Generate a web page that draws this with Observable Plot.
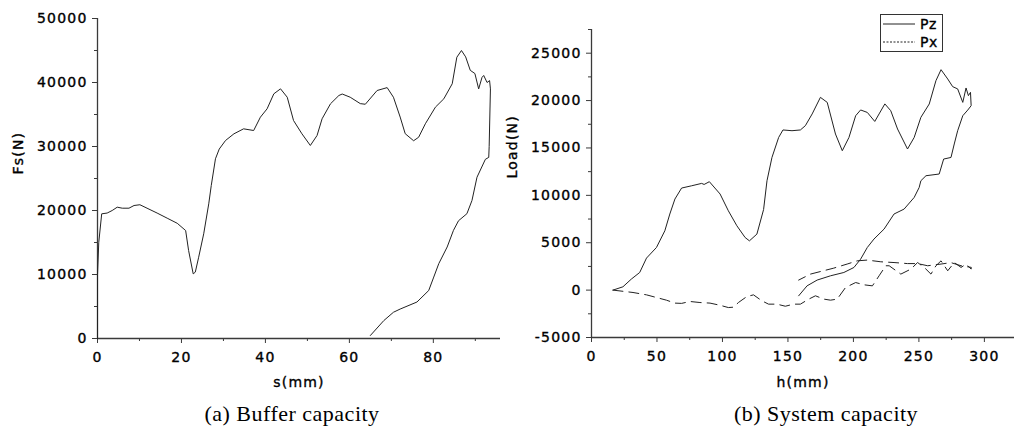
<!DOCTYPE html>
<html>
<head>
<meta charset="utf-8">
<script src="https://cdn.jsdelivr.net/npm/d3@7"></script>
<script src="https://cdn.jsdelivr.net/npm/@observablehq/plot@0.6"></script>
<style>
html, body { margin: 0; padding: 0; background: #fff; width: 1014px; height: 432px; overflow: hidden; }
#wrap { position: relative; width: 1014px; height: 432px; }
.panel { position: absolute; top: 0; }
.panel svg text { letter-spacing: 1.2px; stroke: #000; stroke-width: 0.35px; }
.cap { position: absolute; top: 402px; font-family: "Liberation Serif", "Times New Roman", serif; font-size: 22px; line-height: 24px; letter-spacing: 0.5px; color: #000; white-space: nowrap; transform: translateX(-50%); }
#legend { position: absolute; left: 880px; top: 14px; }
</style>
</head>
<body>
<div id="wrap">
  <div class="panel" id="pa" style="left:0px"></div>
  <div class="panel" id="pb" style="left:500px"></div>
  <div class="cap" id="capA" style="left:292px"></div>
  <div class="cap" id="capB" style="left:826px"></div>
  <div id="legend"></div>
</div>
<script>
// ---------- Panel (a): Buffer capacity ----------
const captionA = "(a) Buffer capacity";
const xLabelA = "s(mm)";
const yLabelA = "Fs(N)";
const xTicksA = [0, 20, 40, 60, 80];
const xMinorA = [10, 30, 50, 70, 90];
const yTicksA = [0, 10000, 20000, 30000, 40000, 50000];
const yMinorA = [5000, 15000, 25000, 35000, 45000];
const sA = [0, 0, 0.3, 1, 2.3, 3.5, 4.7, 5.9, 7.5, 8.7, 10.1, 11.8, 14.2, 16.6, 19, 21, 21.7, 22.8, 23.3, 24.1, 25.3, 26.5, 27.1, 28.1, 29, 30.5, 32.5, 34.8, 37.2, 38.8, 40.4, 42, 43.6, 45.2, 46.7, 48.7, 50.7, 52.3, 53.5, 55.5, 57.5, 58.3, 60.2, 62.6, 63.8, 66.6, 69, 70.5, 72.1, 73.3, 75.3, 76.5, 78.1, 80.5, 82.5, 84.5, 85.6, 86.7, 87.7, 88.8, 89.9, 90.8, 91.6, 92, 92.8, 93.4, 93.6, 93.3, 93.2, 92.4, 90.4, 89.2, 88, 86, 84.8, 83.3, 81.3, 80.1, 78.9, 76.1, 72.1, 70.5, 68.2, 65];
const fsA = [0, 10000, 15000, 19480, 19600, 20000, 20520, 20360, 20360, 20780, 20900, 20360, 19600, 18800, 18000, 16870, 13750, 10100, 10370, 12700, 16360, 21040, 23900, 28080, 29600, 30940, 31980, 32760, 32500, 34580, 35890, 38230, 39010, 37700, 34060, 31980, 30160, 31720, 34330, 36670, 37970, 38200, 37700, 36700, 36600, 38750, 39200, 37700, 34600, 32000, 30900, 31450, 33550, 36150, 37450, 39800, 43950, 45000, 44000, 41900, 41400, 39000, 40800, 41100, 40000, 40300, 39000, 30000, 28300, 28000, 25200, 21560, 19500, 18400, 16900, 14300, 11700, 9600, 7500, 5700, 4600, 4100, 2800, 470];

// ---------- Panel (b): System capacity ----------
const captionB = "(b) System capacity";
const xLabelB = "h(mm)";
const yLabelB = "Load(N)";
const seriesNames = ["Pz", "Px"];
const xTicksB = [0, 50, 100, 150, 200, 250, 300];
const xMinorB = [25, 75, 125, 175, 225, 275];
const yTicksB = [-5000, 0, 5000, 10000, 15000, 20000, 25000];
const yMinorB = [-2500, 2500, 7500, 12500, 17500, 22500, 27500];
const pzH = [16.4, 24, 30.4, 36.8, 42, 49.6, 56, 59.8, 63.7, 68.8, 76.5, 84.1, 86, 90, 98.2, 104.5, 111, 117.3, 120.6, 126.3, 131.4, 134, 137.8, 142.9, 146.2, 153.1, 159.5, 163.3, 168.5, 174.8, 180, 186.3, 191.5, 196.6, 201.7, 205.5, 210.6, 216.3, 219.6, 224, 228.5, 233.7, 241.3, 246.4, 251.5, 257.9, 263, 266.9, 272, 275.8, 279.6, 283.5, 286, 287.8, 289.4, 289.9, 287.3, 283.5, 279.6, 277, 274.5, 268.9, 265.5, 255.4, 251.5, 250.2, 246.4, 238.7, 231, 223.4, 215.7, 210.6, 205.5, 200.4, 192.7, 182.5, 172.3, 164.6, 158.2];
const pzLoad = [0, 350, 1160, 1860, 3380, 4500, 6260, 8030, 9610, 10770, 11010, 11260, 11150, 11440, 10140, 8370, 6790, 5550, 5200, 5910, 8500, 11540, 14000, 16110, 16900, 16820, 16900, 17350, 18590, 20340, 19810, 16470, 14710, 16110, 18400, 19010, 18750, 17800, 18590, 19650, 18930, 17000, 14890, 16110, 18230, 19640, 22100, 23260, 22280, 21470, 21230, 19810, 21330, 20520, 20870, 19460, 19000, 18400, 16820, 15420, 14000, 13830, 12250, 12070, 11540, 10830, 9780, 8550, 8030, 6440, 5390, 4500, 3270, 2390, 1860, 1510, 1060, 450, -600];
const pxH = [16.4, 31.7, 42, 49.6, 57.2, 63.6, 68.8, 75.2, 82.8, 90.5, 98.2, 104.5, 108.4, 112.2, 118.6, 123.7, 130.1, 135.2, 141.6, 148, 154.4, 159.5, 165.9, 171, 177.4, 182.5, 187.6, 194, 201.7, 208.1, 214.5, 219.6, 224.7, 227.3, 236.2, 243.9, 249, 254.1, 259.2, 263, 266.9, 272, 277, 282.2, 286, 289.9, 290, 282.2, 274.5, 266.9, 256.7, 249, 241.3, 231, 220.9, 210.6, 202.9, 195.2, 185, 174.8, 167.2, 158.2];
const pxLoad = [0, -250, -500, -780, -1060, -1370, -1400, -1200, -1310, -1370, -1600, -1840, -1800, -1310, -680, -500, -1130, -1480, -1480, -1700, -1480, -1480, -950, -600, -950, -1060, -950, 280, 800, 560, 450, 1510, 2570, 2570, 1690, 2220, 2910, 2390, 1690, 2570, 3090, 2040, 2910, 2390, 2750, 2220, 2400, 2570, 2900, 2750, 2570, 2800, 2800, 2910, 2990, 3170, 3090, 2750, 2320, 1960, 1690, 1060];

const ink = "#222";
const axisInk = "#3a3a3a";
const fmt = d => String(d);
const baseStyle = {fontFamily: "'DejaVu Sans', sans-serif", fontSize: "14px", color: "#000", background: "transparent", overflow: "visible"};

const dataA = sA.map((s, i) => ({s, f: fsA[i]}));
const plotA = Plot.plot({
  width: 500, height: 395,
  marginLeft: 97, marginRight: 0, marginTop: 18, marginBottom: 57,
  style: baseStyle,
  x: {domain: [0, 96]},
  y: {domain: [0, 50000]},
  marks: [
    Plot.axisY(yTicksA, {tickSize: 5, tickPadding: 5, tickFormat: fmt, label: null, stroke: axisInk, fill: "#000"}),
    Plot.axisY(yMinorA, {tickSize: 3, tickFormat: () => "", label: null, stroke: axisInk}),
    Plot.axisX(xTicksA, {tickSize: 5, tickPadding: 9, tickFormat: fmt, label: null, stroke: axisInk, fill: "#000"}),
    Plot.axisX(xMinorA, {tickSize: 3, tickFormat: () => "", label: null, stroke: axisInk}),
    Plot.ruleX([0], {stroke: axisInk, strokeWidth: 1.3}),
    Plot.ruleY([0], {stroke: axisInk, strokeWidth: 1.3}),
    Plot.line(dataA, {x: "s", y: "f", stroke: ink, strokeWidth: 1}),
    Plot.text([yLabelA], {frameAnchor: "left", dx: -79, dy: -4, rotate: -90, fontSize: 14}),
    Plot.text([xLabelA], {frameAnchor: "bottom", dy: 48, fontSize: 14})
  ]
});
document.getElementById("pa").appendChild(plotA);

const dataB = [
  ...pzH.map((h, i) => ({h, v: pzLoad[i], s: seriesNames[0]})),
  ...pxH.map((h, i) => ({h, v: pxLoad[i], s: seriesNames[1]}))
];
const plotB = Plot.plot({
  width: 514, height: 395,
  marginLeft: 91, marginRight: 0, marginTop: 29, marginBottom: 58,
  style: baseStyle,
  x: {domain: [0, 323]},
  y: {domain: [-5000, 27500]},
  marks: [
    Plot.axisY(yTicksB, {tickSize: 5, tickPadding: 5, tickFormat: fmt, label: null, stroke: axisInk, fill: "#000"}),
    Plot.axisY(yMinorB, {tickSize: 3, tickFormat: () => "", label: null, stroke: axisInk}),
    Plot.axisX(xTicksB, {tickSize: 5, tickPadding: 9, tickFormat: fmt, label: null, stroke: axisInk, fill: "#000"}),
    Plot.axisX(xMinorB, {tickSize: 3, tickFormat: () => "", label: null, stroke: axisInk}),
    Plot.ruleX([0], {stroke: axisInk, strokeWidth: 1.3}),
    Plot.ruleY([-5000], {stroke: axisInk, strokeWidth: 1.3}),
    Plot.line(dataB.filter(d => d.s === seriesNames[0]), {x: "h", y: "v", stroke: ink, strokeWidth: 1}),
    Plot.line(dataB.filter(d => d.s === seriesNames[1]), {x: "h", y: "v", stroke: ink, strokeWidth: 1, strokeDasharray: "10,6"}),
    Plot.text([yLabelB], {frameAnchor: "left", dx: -79, dy: -5, rotate: -90, fontSize: 14}),
    Plot.text([xLabelB], {frameAnchor: "bottom", dy: 49, fontSize: 14})
  ]
});
document.getElementById("pb").appendChild(plotB);

document.getElementById("capA").textContent = captionA;
document.getElementById("capB").textContent = captionB;

// legend
const lg = d3.select("#legend").append("svg").attr("width", 64).attr("height", 39);
lg.append("rect").attr("x", 0.5).attr("y", 0.5).attr("width", 62).attr("height", 37).attr("fill", "#fff").attr("stroke", "#333");
seriesNames.forEach((name, i) => {
  const y = 10 + i * 18;
  lg.append("line").attr("x1", 3).attr("x2", 35).attr("y1", y).attr("y2", y)
    .attr("stroke", ink).attr("stroke-width", 1).attr("stroke-dasharray", i === 0 ? null : "2,1.5");
  lg.append("text").attr("x", 40).attr("y", y + 5).text(name)
    .attr("font-family", "'DejaVu Sans', sans-serif").attr("font-size", 14).attr("letter-spacing", "0.5px")
    .attr("stroke", "#000").attr("stroke-width", 0.35);
});
</script>
</body>
</html>
